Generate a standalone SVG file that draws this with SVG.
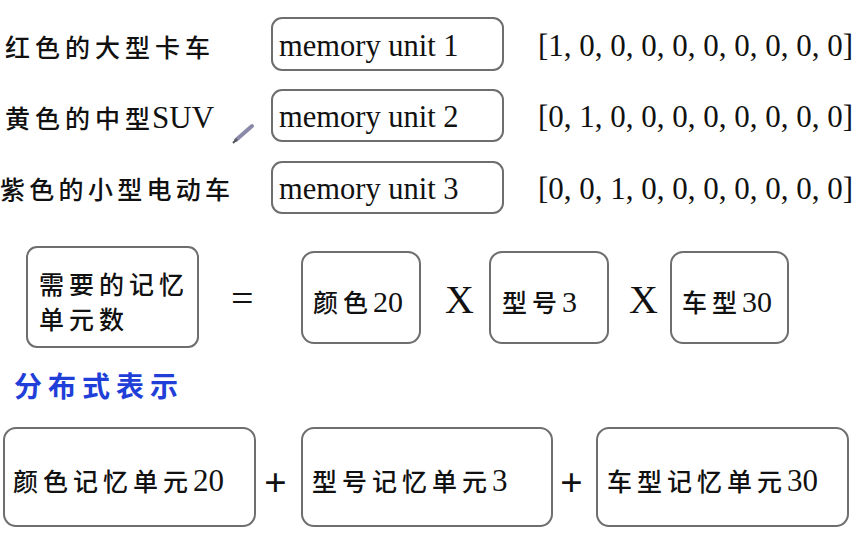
<svg xmlns="http://www.w3.org/2000/svg" width="867" height="538" viewBox="0 0 867 538">
<style>
.box{fill:#fff;stroke:#6e6e6e;stroke-width:2}
.cjk{font-family:"Noto Sans CJK SC","Noto Sans CJK JP",sans-serif;font-size:25px;fill:#111;letter-spacing:5px;font-weight:500}
.ser{font-family:"Liberation Serif","Times New Roman",serif;fill:#111;letter-spacing:0;font-weight:normal}
.mu{font-family:"Liberation Serif","Times New Roman",serif;font-size:30.5px;fill:#111}
.vec{font-family:"Liberation Serif","Times New Roman",serif;font-size:31px;fill:#111}
.op{font-family:"Liberation Serif","Times New Roman",serif;font-size:40px;fill:#111}
.blue{font-family:"Noto Sans CJK SC",sans-serif;font-size:28px;fill:#1f3fd8;letter-spacing:6px;font-weight:bold}
</style>
<rect width="867" height="538" fill="#fff"/>

<g id="row1">
<text class="cjk" x="5" y="57">红色的大型卡车</text>
<g id="mem1"><rect class="box" x="272" y="18" width="231" height="52" rx="10"/>
<text class="mu" x="279" y="56">memory unit 1</text></g>
<text class="vec" x="538" y="56">[1, 0, 0, 0, 0, 0, 0, 0, 0, 0]</text>
</g>

<g id="row2">
<text class="cjk" x="5" y="128">黄色的中型<tspan class="ser" font-size="31" dx="-3">SUV</tspan></text>
<g id="mem2"><rect class="box" x="272" y="90" width="231" height="51" rx="10"/>
<text class="mu" x="279" y="127">memory unit 2</text></g>
<text class="vec" x="538" y="127">[0, 1, 0, 0, 0, 0, 0, 0, 0, 0]</text>
</g>

<g id="row3">
<text class="cjk" x="0" y="199" style="letter-spacing:4.3px">紫色的小型电动车</text>
<g id="mem3"><rect class="box" x="272" y="162" width="231" height="51" rx="10"/>
<text class="mu" x="279" y="199">memory unit 3</text></g>
<text class="vec" x="538" y="199">[0, 0, 1, 0, 0, 0, 0, 0, 0, 0]</text>
</g>

<g id="pencil">
<line x1="236" y1="140" x2="252" y2="126" stroke="#8a8aa8" stroke-width="4" stroke-linecap="round"/>
<line x1="233" y1="143" x2="237" y2="139" stroke="#555" stroke-width="2"/>
</g>

<g id="needed">
<rect class="box" x="27" y="247" width="171" height="100" rx="10"/>
<text class="cjk" x="39" y="294">需要的记忆</text>
<text class="cjk" x="39" y="329">单元数</text>
</g>
<text class="op" x="231" y="312" font-size="34">=</text>

<g id="color">
<rect class="box" x="302" y="252" width="118" height="91" rx="12"/>
<text class="cjk" x="313" y="312">颜色<tspan class="ser" font-size="30">20</tspan></text>
</g>
<text class="op" x="445" y="313">X</text>
<g id="model">
<rect class="box" x="490" y="252" width="118" height="91" rx="12"/>
<text class="cjk" x="502" y="312">型号<tspan class="ser" font-size="30">3</tspan></text>
</g>
<text class="op" x="629" y="313">X</text>
<g id="cartype">
<rect class="box" x="671" y="252" width="117" height="91" rx="12"/>
<text class="cjk" x="682" y="312">车型<tspan class="ser" font-size="30">30</tspan></text>
</g>

<text class="blue" x="14" y="397">分布式表示</text>

<g id="colorunits">
<rect class="box" x="4" y="428" width="251" height="98" rx="12"/>
<text class="cjk" x="13" y="491" font-size="26">颜色记忆单元<tspan class="ser" font-size="31">20</tspan></text>
</g>
<text class="op" x="264" y="496" font-size="38" font-weight="bold">+</text>
<g id="modelunits">
<rect class="box" x="302" y="428" width="250" height="98" rx="12"/>
<text class="cjk" x="312" y="491" font-size="26">型号记忆单元<tspan class="ser" font-size="31">3</tspan></text>
</g>
<text class="op" x="560" y="496" font-size="38" font-weight="bold">+</text>
<g id="typeunits">
<rect class="box" x="597" y="428" width="251" height="98" rx="12"/>
<text class="cjk" x="607" y="491" font-size="26">车型记忆单元<tspan class="ser" font-size="31">30</tspan></text>
</g>
</svg>
